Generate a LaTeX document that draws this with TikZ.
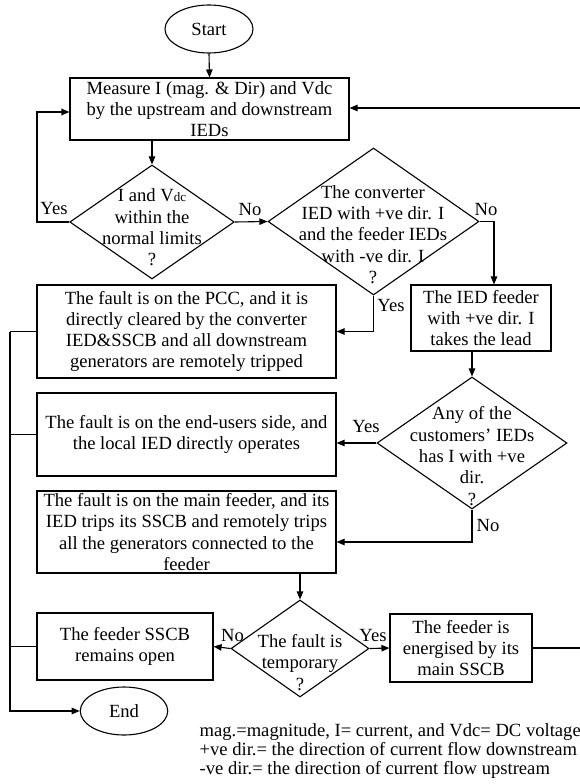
\documentclass[tikz,border=0pt]{standalone}
\usepackage{fontspec}
\setmainfont{Liberation Serif}
\usetikzlibrary{shapes.geometric,arrows.meta}
\tikzset{
  txt/.style={font=\fontsize{18.6}{21.3}\selectfont, align=center, inner sep=0pt},
  box/.style={draw, line width=1.1pt, rectangle, inner sep=0pt, font=\fontsize{18.6}{21.3}\selectfont, align=center},
  dia/.style={draw, line width=1.1pt, diamond, inner sep=0pt},
  term/.style={draw, line width=1.1pt, ellipse, inner sep=0pt, font=\fontsize{18.6}{21.3}\selectfont},
  conn/.style={line width=1.1pt},
  arr/.style={line width=1.1pt, -{Triangle[length=8pt,width=6.5pt]}},
  lbl/.style={font=\fontsize{18.6}{21.3}\selectfont, inner sep=0pt}
}
\begin{document}
\begin{tikzpicture}[x=1pt,y=-1pt]
\useasboundingbox (0,0) rectangle (579,784);
% terminals
\node[term, minimum width=88pt, minimum height=48pt] (start) at (209,29) {Start};
\node[term, minimum width=87.5pt, minimum height=48pt] (end) at (124,711) {End};
% boxes
\node[box, minimum width=279pt, minimum height=62pt] (measure) at (209.5,109)
  {Measure I (mag. \& Dir) and Vdc\\by the upstream and downstream\\IEDs};
\node[box, minimum width=299pt, minimum height=93pt] (pcc) at (186.5,331.5)
  {The fault is on the PCC, and it is\\directly cleared by the converter\\IED\&SSCB and all downstream\\generators are remotely tripped};
\node[box, minimum width=140pt, minimum height=66pt] (ied) at (481,318)
  {The IED feeder\\with +ve dir. I\\takes the lead};
\node[box, minimum width=299pt, minimum height=83pt] (eu) at (186.5,434.5)
  {The fault is on the end-users side, and\\the local IED directly operates};
\node[box, minimum width=299pt, minimum height=82pt] (mf) at (186.5,532)
  {The fault is on the main feeder, and its\\IED trips its SSCB and remotely trips\\all the generators connected to the\\feeder};
\node[box, minimum width=176pt, minimum height=67pt] (fs) at (125,646.5)
  {The feeder SSCB\\remains open};
\node[box, minimum width=142pt, minimum height=68pt] (en) at (461,648)
  {The feeder is\\energised by its\\main SSCB};
% diamonds
\node[dia, minimum width=164.5pt, minimum height=114pt] (d1) at (152,222) {};
\node[txt] (d1t) at (152,227.5) {I and V{\fontsize{13}{13}\selectfont dc}\\within the\\normal limits\\?};
\node[dia, minimum width=211pt, minimum height=147pt] (d2) at (373.5,221.5) {};
\node[txt] (d2t) at (373,234.5) {The converter\\IED with +ve dir. I\\and the feeder IEDs\\with -ve dir. I\\?};
\node[dia, minimum width=190pt, minimum height=132pt] (d3) at (472,443) {};
\node[txt] (d3t) at (472,456) {Any of the\\customers' IEDs\\has I with +ve\\dir.\\?};
\node[dia, minimum width=138pt, minimum height=97pt] (d4) at (300,648.5) {};
\node[txt] (d4t) at (300,662.5) {The fault is\\temporary\\?};
% helper coordinates
\coordinate (yesL) at (37,222);
\coordinate (bus) at (10,331.5);
\coordinate (rightR) at (595,648);
% connectors
\draw[arr] (start.south) -- (measure.north);
\draw[arr] (measure.south -| d1.north) -- (d1.north);
\draw[arr] (d1.west) -- (yesL) |- ([yshift=-3pt]measure.west);
\draw[arr] (d1.east) -- (d2.west);
\draw[arr] (d2.east) -| ([xshift=13pt]ied.north);
\draw[arr] (d2.south) |- (pcc.east);
\draw[arr] (d3.north |- ied.south) -- (d3.north);
\draw[arr] (d3.west) -- (d3.west -| eu.east);
\draw[arr] (d3.south) |- ([yshift=-10pt]mf.east);
\draw[arr] (mf.south -| d4.north) -- (d4.north);
\draw[arr] (d4.west) -- (fs.east);
\draw[arr] (d4.east) -- (en.west);
\draw[arr] (en.east) -- (rightR) |- ([yshift=1pt]measure.east);
\draw[conn] (pcc.west) -- (bus);
\draw[arr] (bus) |- (end.west);
\draw[conn] (eu.west) -- (eu.west -| bus);
\draw[conn] (fs.west) -- (fs.west -| bus);
% labels
\node[lbl] (l1) at (54,208) {Yes};
\node[lbl] (l2) at (250,209) {No};
\node[lbl] (l3) at (486,209) {No};
\node[lbl] (l4) at (391,305) {Yes};
\node[lbl] (l5) at (366,426) {Yes};
\node[lbl] (l6) at (488,525) {No};
\node[lbl] (l7) at (232.6,635) {No};
\node[lbl] (l8) at (373,635) {Yes};
% footnote
\node[anchor=west, align=left, inner sep=0pt, font=\fontsize{18.6}{19.2}\selectfont] (note) at (199.4,751)
  {mag.=magnitude, I= current, and Vdc= DC voltage\\+ve dir.= the direction of current flow downstream\\-ve dir.= the direction of current flow upstream};
\end{tikzpicture}
\end{document}
